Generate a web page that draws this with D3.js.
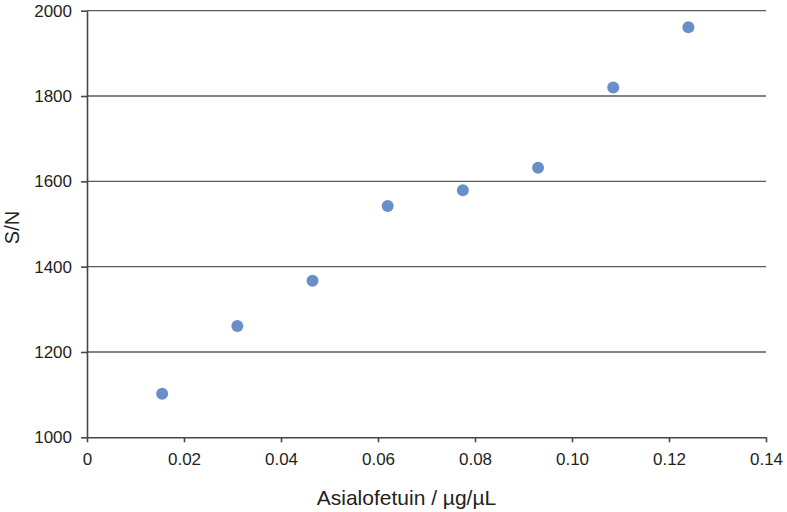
<!DOCTYPE html>
<html>
<head>
<meta charset="utf-8">
<script src="https://cdn.jsdelivr.net/npm/d3@7"></script>
<style>
  body { margin: 0; background: #fff; }
  text { font-family: "Liberation Sans", Arial, sans-serif; fill: #231f20; }
</style>
</head>
<body>
<svg id="chart"></svg>
<script>
// data
const concentration = [0.0155, 0.031, 0.0465, 0.062, 0.0775, 0.093, 0.1085, 0.124];
const signalToNoise = [1102, 1261, 1367, 1542, 1579, 1632, 1820, 1961];
const xTicks = [0, 0.02, 0.04, 0.06, 0.08, 0.10, 0.12, 0.14];
const yTicks = [1000, 1200, 1400, 1600, 1800, 2000];

const width = 787,
  height = 512,
  plotLeft = 87,
  plotRight = 766,
  plotTop = 10.7,
  plotBottom = 437.3;

const svg = d3.select("#chart").attr("width", width).attr("height", height);

const xScale = d3.scaleLinear().domain([0, 0.14]).range([plotLeft, plotRight]);
const yScale = d3.scaleLinear().domain([1000, 2000]).range([plotBottom, plotTop]);

// horizontal gridlines
svg
  .append("g")
  .selectAll("line")
  .data(yTicks.slice(1))
  .enter()
  .append("line")
  .attr("x1", plotLeft)
  .attr("x2", plotRight)
  .attr("y1", d => yScale(d))
  .attr("y2", d => yScale(d))
  .attr("stroke", "#5a5a5a")
  .attr("stroke-width", 1.3);

const xAxis = d3
  .axisBottom(xScale)
  .tickValues(xTicks)
  .tickSize(5)
  .tickSizeOuter(0)
  .tickPadding(11)
  .tickFormat(d => (d === 0 ? "0" : d3.format(".2f")(d)));

const yAxis = d3
  .axisLeft(yScale)
  .tickValues(yTicks)
  .tickSize(6)
  .tickSizeOuter(0)
  .tickPadding(9)
  .tickFormat(d3.format("d"));

const gx = svg
  .append("g")
  .attr("transform", "translate(0," + plotBottom + ")")
  .call(xAxis);
const gy = svg
  .append("g")
  .attr("transform", "translate(" + plotLeft + ",0)")
  .call(yAxis);

[gx, gy].forEach(g => {
  g.selectAll("path, line").attr("stroke", "#4a4546").attr("stroke-width", 1.6);
  g.selectAll("text").style("font-size", "17px").attr("fill", "#231f20");
});

// points
svg
  .append("g")
  .selectAll("circle")
  .data(concentration)
  .enter()
  .append("circle")
  .attr("cx", d => xScale(d))
  .attr("cy", (d, i) => yScale(signalToNoise[i]))
  .attr("r", 6)
  .attr("fill", "#6a8fc8");

svg
  .append("text")
  .attr("x", 406.5)
  .attr("y", 505)
  .attr("text-anchor", "middle")
  .style("font-size", "21px")
  .text("Asialofetuin / µg/µL");

svg
  .append("text")
  .attr("transform", "translate(19,227.5) rotate(-90)")
  .attr("text-anchor", "middle")
  .style("font-size", "20px")
  .text("S/N");
</script>
</body>
</html>
